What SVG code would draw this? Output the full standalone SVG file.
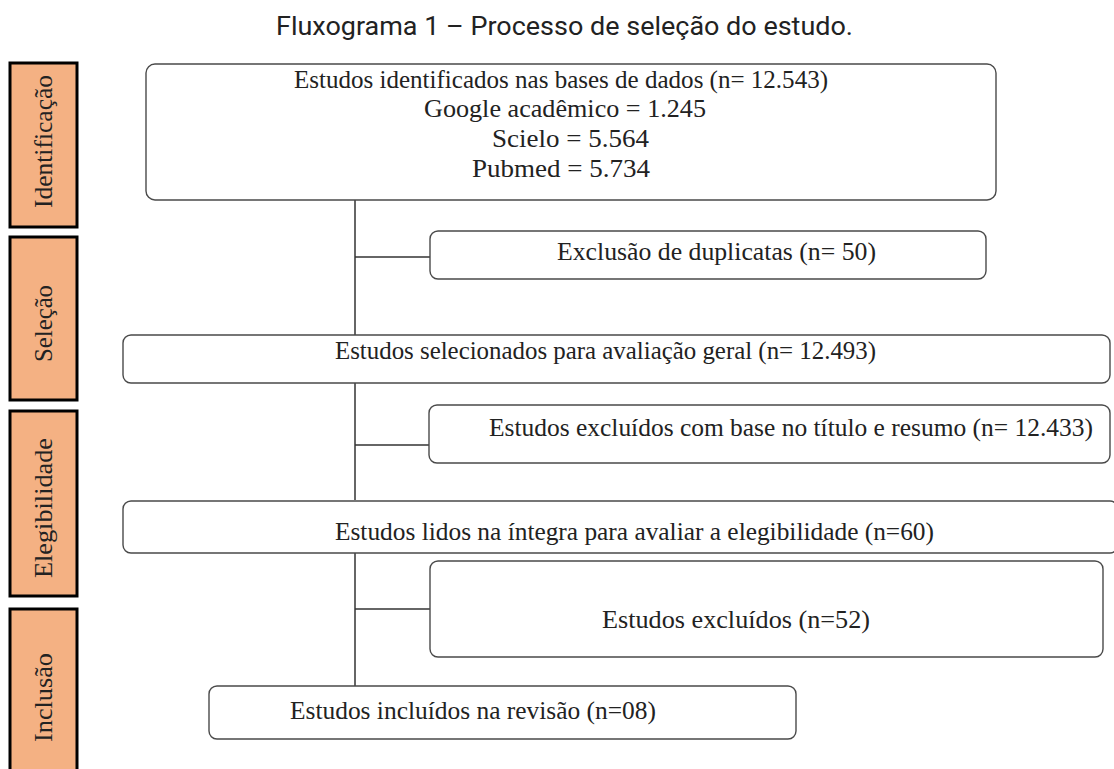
<svg xmlns="http://www.w3.org/2000/svg" width="1114" height="769" viewBox="0 0 1114 769">
<style>
.bg{fill:#ffffff}
.side{fill:#F4B183;stroke:#000;stroke-width:3}
.side-t{font-family:"Liberation Serif","Times New Roman",serif;font-size:25px;fill:#222;text-anchor:middle}
.box{fill:#fff;stroke:#4a4a4a;stroke-width:1.4}
.t{font-family:"Liberation Serif","Times New Roman",serif;font-size:25px;fill:#222}
.title{font-family:Roboto,"Noto Sans",sans-serif;font-size:25px;fill:#222}
.conn{stroke:#333;stroke-width:1.5;fill:none}
</style>
<rect class="bg" x="0" y="0" width="1114" height="769"/>
<text class="title" x="276" y="35" textLength="577" lengthAdjust="spacingAndGlyphs">Fluxograma 1 – Processo de seleção do estudo.</text>

<g id="connectors">
<line class="conn" x1="355" y1="200" x2="355" y2="335"/>
<line class="conn" x1="355" y1="257" x2="430" y2="257"/>
<line class="conn" x1="355" y1="370" x2="355" y2="500"/>
<line class="conn" x1="355" y1="445" x2="429" y2="445"/>
<line class="conn" x1="355" y1="553" x2="355" y2="686"/>
<line class="conn" x1="355" y1="609" x2="430" y2="609"/>
</g>

<g id="phase-identificacao">
<rect class="side" x="10" y="63" width="67" height="164"/>
<text class="side-t" transform="translate(52,141.5) rotate(-90)" textLength="133" lengthAdjust="spacingAndGlyphs">Identificação</text>
</g>
<g id="phase-selecao">
<rect class="side" x="10" y="237" width="67" height="163"/>
<text class="side-t" transform="translate(52,323.5) rotate(-90)" textLength="77" lengthAdjust="spacingAndGlyphs">Seleção</text>
</g>
<g id="phase-elegibilidade">
<rect class="side" x="10" y="411" width="67" height="185"/>
<text class="side-t" transform="translate(52,508) rotate(-90)" textLength="140" lengthAdjust="spacingAndGlyphs">Elegibilidade</text>
</g>
<g id="phase-inclusao">
<rect class="side" x="10" y="609" width="67" height="170"/>
<text class="side-t" transform="translate(52,697.5) rotate(-90)" textLength="89" lengthAdjust="spacingAndGlyphs">Inclusão</text>
</g>

<g id="node-identificados">
<rect class="box" x="146" y="64" width="850" height="136" rx="9"/>
<text class="t" x="294" y="88" textLength="534" lengthAdjust="spacingAndGlyphs">Estudos identificados nas bases de dados (n= 12.543)</text>
<text class="t" x="424" y="117" textLength="282" lengthAdjust="spacingAndGlyphs">Google acadêmico = 1.245</text>
<text class="t" x="492" y="147" textLength="157" lengthAdjust="spacingAndGlyphs">Scielo = 5.564</text>
<text class="t" x="472" y="177" textLength="178" lengthAdjust="spacingAndGlyphs">Pubmed = 5.734</text>
</g>

<g id="node-duplicatas">
<rect class="box" x="430" y="231" width="556" height="48" rx="8"/>
<text class="t" x="557" y="260" textLength="319" lengthAdjust="spacingAndGlyphs">Exclusão de duplicatas (n= 50)</text>
</g>

<g id="node-selecionados">
<rect class="box" x="123" y="335" width="987" height="48" rx="8"/>
<text class="t" x="335" y="359" textLength="541" lengthAdjust="spacingAndGlyphs">Estudos selecionados  para avaliação  geral  (n= 12.493)</text>
</g>

<g id="node-excluidos-titulo">
<rect class="box" x="429" y="405" width="681" height="58" rx="8"/>
<text class="t" x="489" y="436" textLength="604" lengthAdjust="spacingAndGlyphs">Estudos excluídos com base no título e resumo (n= 12.433)</text>
</g>

<g id="node-lidos">
<rect class="box" x="123" y="501" width="995" height="52" rx="8"/>
<text class="t" x="335" y="540" textLength="599" lengthAdjust="spacingAndGlyphs">Estudos lidos na íntegra para avaliar a elegibilidade (n=60)</text>
</g>

<g id="node-excluidos">
<rect class="box" x="430" y="561" width="673" height="96" rx="8"/>
<text class="t" x="602" y="628" textLength="268" lengthAdjust="spacingAndGlyphs">Estudos excluídos (n=52)</text>
</g>

<g id="node-incluidos">
<rect class="box" x="209" y="686" width="587" height="53" rx="8"/>
<text class="t" x="290" y="719" textLength="366" lengthAdjust="spacingAndGlyphs">Estudos incluídos na revisão (n=08)</text>
</g>
</svg>
